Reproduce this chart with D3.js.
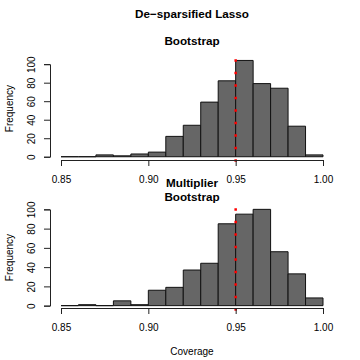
<!DOCTYPE html>
<html>
<head>
<meta charset="utf-8">
<script src="https://cdn.jsdelivr.net/npm/d3@7"></script>
<style>
  body { margin: 0; background: #fff; }
  svg text { font-family: "Liberation Sans", Arial, Helvetica, sans-serif; fill: #000; }
</style>
</head>
<body>
<div id="wrapper"></div>
<script>
// histogram breaks (coverage) and counts
const breaks = [0.85, 0.86, 0.87, 0.88, 0.89, 0.90, 0.91, 0.92, 0.93, 0.94, 0.95, 0.96, 0.97, 0.98, 0.99, 1.00]
const bootstrapCounts = [0, 0, 2, 1, 3, 5, 22, 34, 59, 82, 104, 79, 74, 33, 2]
const multiplierCounts = [0, 1, 0, 5, 1, 16, 19, 37, 44, 85, 95, 100, 56, 33, 8]
const xTicks = [0.85, 0.90, 0.95, 1.00]
const yTicks = [0, 20, 40, 60, 80, 100]
const nominal = 0.95
const mainTitle = "De\u2212sparsified Lasso"
const panelTitles = [["Bootstrap"], ["Multiplier", "Bootstrap"]]
const xLabel = "Coverage"
const yLabel = "Frequency"

function drawHistograms() {

  let dimensions = {
    width: 360,
    height: 360,
    plotHeight: 104,
    panels: [
      { bottom: 160.6, axisY: 160, titleY: [45] },
      { bottom: 309.5, axisY: 308, titleY: [186.5, 201] },
    ]
  }

  const bins = d3.range(breaks.length - 1).map(i => ({ x0: breaks[i], x1: breaks[i + 1] }))

  const xScale = d3.scaleLinear()
    .domain([0.85, 1.00])
    .range([61, 323])

  const svg = d3.select("#wrapper")
    .append("svg")
    .attr("width", dimensions.width)
    .attr("height", dimensions.height)

  svg.append("text")
    .attr("x", 192)
    .attr("y", 17.5)
    .attr("text-anchor", "middle")
    .style("font-size", "11.7px")
    .style("font-weight", "bold")
    .text(mainTitle)

  const allCounts = [bootstrapCounts, multiplierCounts]

  allCounts.forEach((counts, k) => {
    const panel = dimensions.panels[k]
    const maxCount = d3.max(counts)
    // R style 4% extension on the y range
    const yScale = d3.scaleLinear()
      .domain([-0.04 * maxCount, 1.04 * maxCount])
      .range([panel.bottom, panel.bottom - dimensions.plotHeight])

    const g = svg.append("g")

    // bars
    g.selectAll("path.bar")
      .data(bins.map((b, i) => ({ ...b, count: counts[i] })))
      .join("path")
      .attr("class", "bar")
      .attr("d", d => {
        const x0 = xScale(d.x0), x1 = xScale(d.x1)
        const y0 = yScale(0), y1 = yScale(d.count)
        return `M${x0},${y0}V${y1}H${x1}V${y0}Z`
      })
      .attr("fill", "#666666")
      .attr("stroke", "#111")
      .attr("stroke-width", 1)

    // dotted red line at nominal level
    g.append("line")
      .attr("x1", xScale(nominal))
      .attr("x2", xScale(nominal))
      .attr("y1", yScale(-0.04 * maxCount) + 1.25)
      .attr("y2", yScale(1.04 * maxCount))
      .attr("stroke", "red")
      .attr("stroke-width", 2.5)
      .attr("stroke-dasharray", "2.5,10")

    // x axis
    const xAxisGenerator = d3.axisBottom(xScale)
      .tickValues(xTicks)
      .tickFormat(d3.format(".2f"))
      .tickSizeOuter(0)
      .tickSize(6)

    const xAxis = g.append("g")
      .attr("transform", `translate(0,${panel.axisY})`)
      .call(xAxisGenerator)
    xAxis.select(".domain").attr("stroke", "#222")
    xAxis.selectAll(".tick line").attr("stroke", "#222")
    xAxis.selectAll(".tick text")
      .attr("y", 23)
      .attr("dy", null)
      .style("font-size", "10px")
      .style("font-family", null)

    // y axis
    const yAxisGenerator = d3.axisLeft(yScale)
      .tickValues(yTicks)
      .tickSizeOuter(0)
      .tickSize(6)

    const yDomain = yScale.copy().domain([0, 100]).range([yScale(0), yScale(100)])
    const yAxis = g.append("g")
      .attr("transform", "translate(50,0)")
      .call(yAxisGenerator.scale(yDomain))
    yAxis.select(".domain").attr("stroke", "#222")
    yAxis.selectAll(".tick line").attr("stroke", "#222")
    yAxis.selectAll(".tick text")
      .attr("x", null)
      .attr("dy", null)
      .attr("text-anchor", "middle")
      .attr("transform", "translate(-15,0) rotate(-90)")
      .style("font-size", "10px")
      .style("font-family", null)

    // panel title
    panelTitles[k].forEach((t, j) => {
      svg.append("text")
        .attr("x", 192)
        .attr("y", panel.titleY[j])
        .attr("text-anchor", "middle")
        .style("font-size", "11.7px")
        .style("font-weight", "bold")
        .text(t)
    })

    // y label
    const yMid = panel.bottom - dimensions.plotHeight / 2
    svg.append("text")
      .attr("transform", `translate(12.5,${yMid}) rotate(-90)`)
      .attr("text-anchor", "middle")
      .style("font-size", "10px")
      .text(yLabel)
  })

  svg.append("text")
    .attr("x", 192)
    .attr("y", 355)
    .attr("text-anchor", "middle")
    .style("font-size", "10px")
    .text(xLabel)
}

drawHistograms()
</script>
</body>
</html>
